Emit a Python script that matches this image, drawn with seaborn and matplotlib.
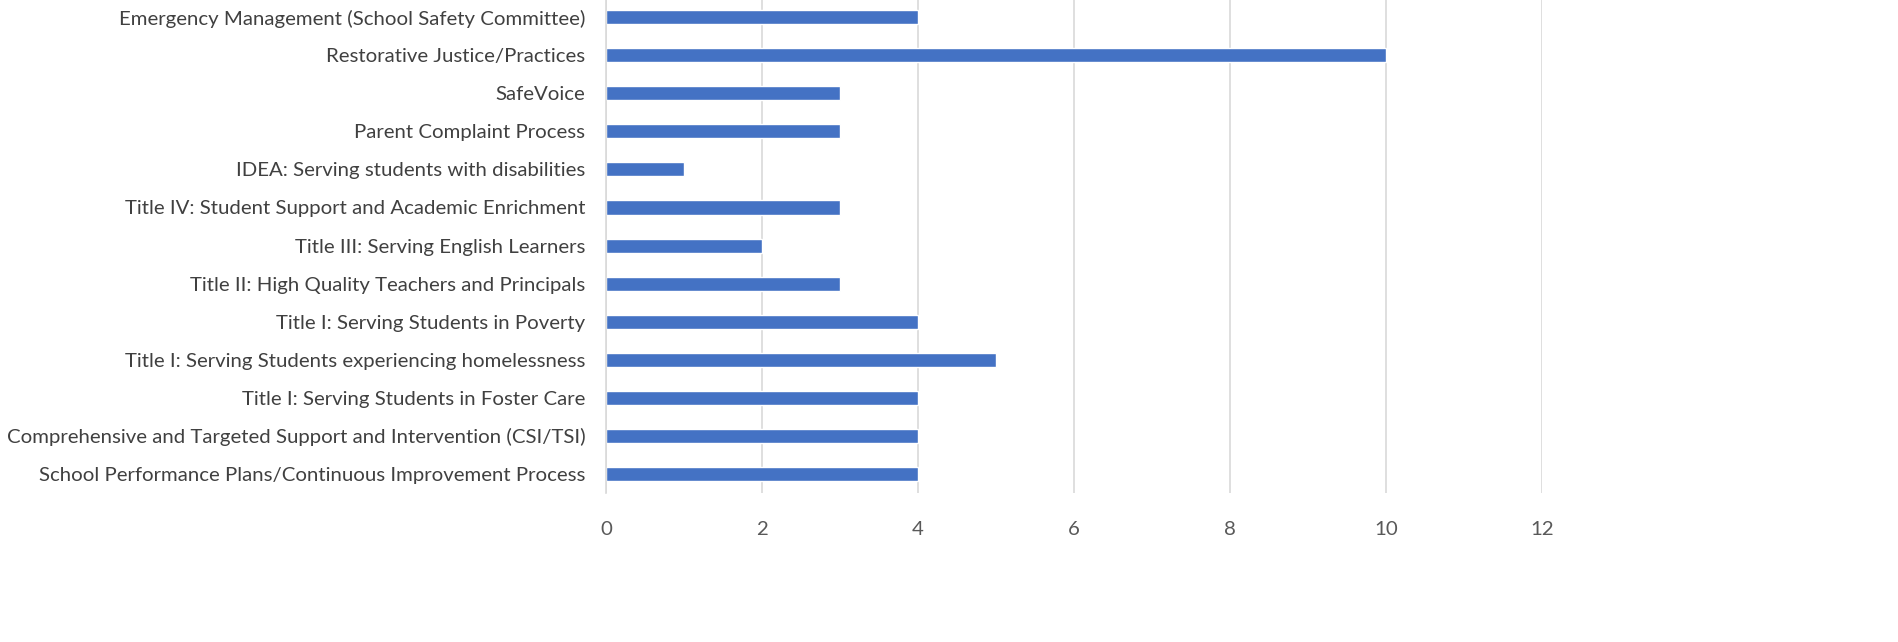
import matplotlib
matplotlib.use("Agg")
import matplotlib.pyplot as plt
import seaborn as sns
import pandas as pd

categories = [
    "Emergency Management (School Safety Committee)",
    "Restorative Justice/Practices",
    "SafeVoice",
    "Parent Complaint Process",
    "IDEA: Serving students with disabilities",
    "Title IV: Student Support and Academic Enrichment",
    "Title III: Serving English Learners",
    "Title II: High Quality Teachers and Principals",
    "Title I: Serving Students in Poverty",
    "Title I: Serving Students experiencing homelessness",
    "Title I: Serving Students in Foster Care",
    "Comprehensive and Targeted Support and Intervention (CSI/TSI)",
    "School Performance Plans/Continuous Improvement Process",
]
values = [4, 10, 3, 3, 1, 3, 2, 3, 4, 5, 4, 4, 4]
x_ticks = [0, 2, 4, 6, 8, 10, 12]

df = pd.DataFrame({"category": categories, "value": values})

sns.set_theme(style="white")
plt.rcParams['font.family'] = ['Lato', 'DejaVu Sans']

fig = plt.figure(figsize=(18.98, 6.42), dpi=100)
ax = fig.add_axes([0.3193, 0.232, 0.4931, 0.771])

sns.barplot(data=df, x="value", y="category", color="#4472C4", saturation=1,
            width=0.37, orient="h", ax=ax)

ax.set_xlim(0, 12)
ax.set_ylim(12.5, -0.5)
ax.set_xticks(x_ticks)
ax.set_xticklabels([str(t) for t in x_ticks], fontsize=14.7, color="#595959")
ax.tick_params(axis="y", labelsize=14.7, colors="#404040", length=0, pad=15)
ax.tick_params(axis="x", length=0, pad=20)
for lab in ax.get_yticklabels():
    lab.set_color("#404040")
ax.set_xlabel("")
ax.set_ylabel("")
ax.grid(axis="x", color="#D9D9D9", linewidth=1.2)
ax.set_axisbelow(True)
for s in ["top", "right", "bottom"]:
    ax.spines[s].set_visible(False)
ax.spines["left"].set_color("#D9D9D9")
ax.spines["left"].set_linewidth(1.2)

fig.savefig("out.png", dpi=100)
